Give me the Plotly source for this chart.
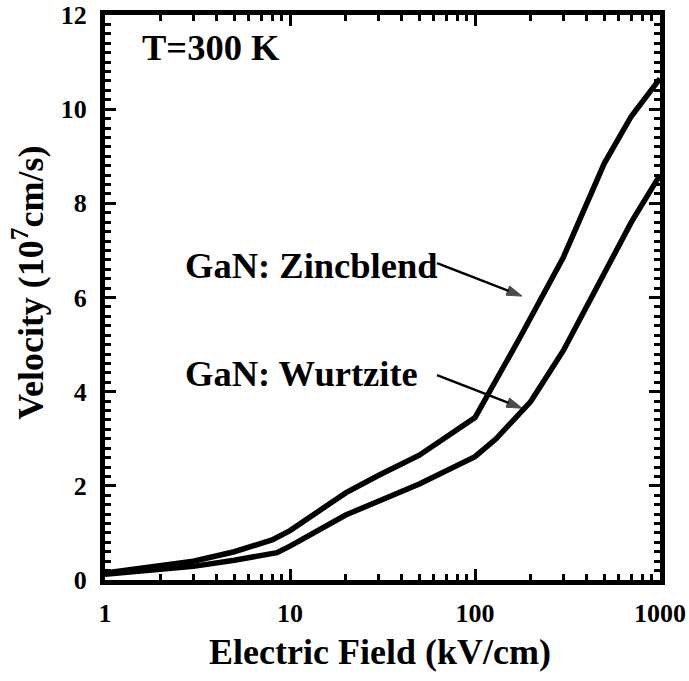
import plotly.graph_objects as go

# Drift velocity vs electric field for GaN at 300 K
zb_field = [1, 2, 3, 5, 8, 10, 20, 30, 50, 100, 175, 300, 500, 700, 1000]
zb_vel = [0.15, 0.30, 0.40, 0.60, 0.85, 1.05, 1.85, 2.22, 2.65, 3.45, 5.15, 6.85, 8.85, 9.85, 10.65]

wz_field = [1, 2, 3, 5, 8.5, 10, 20, 50, 100, 130, 200, 300, 500, 700, 1000]
wz_vel = [0.12, 0.21, 0.29, 0.42, 0.58, 0.72, 1.38, 2.04, 2.62, 3.0, 3.79, 4.87, 6.55, 7.6, 8.6]

# Pointer arrows from each label to its curve: (tail, head) in field / velocity units
zb_arrow_field = [62.3, 179.5]
zb_arrow_vel = [6.73, 6.03]
wz_arrow_field = [62.3, 179.5]
wz_arrow_vel = [4.35, 3.65]

# Tick positions and labels
x_major = [1, 10, 100, 1000]
x_major_text = ["<b>1</b>", "<b>10</b>", "<b>100</b>", "<b>1000</b>"]
x_minor = [m * d for d in (1, 10, 100) for m in range(2, 10)]
y_major = [0, 2, 4, 6, 8, 10, 12]
y_major_text = ["<b>%d</b>" % v for v in y_major]

FONT = "Liberation Serif"
BLACK = "black"

fig = go.Figure()
fig.add_trace(go.Scatter(x=zb_field, y=zb_vel, mode="lines",
                         line=dict(color=BLACK, width=5.5), name="GaN: Zincblend"))
fig.add_trace(go.Scatter(x=wz_field, y=wz_vel, mode="lines",
                         line=dict(color=BLACK, width=5.5), name="GaN: Wurtzite"))

for ax_f, ax_v in [(zb_arrow_field, zb_arrow_vel), (wz_arrow_field, wz_arrow_vel)]:
    fig.add_trace(go.Scatter(x=ax_f, y=ax_v, mode="lines+markers",
                             line=dict(color=BLACK, width=2.5),
                             marker=dict(symbol=["circle", "arrow"], size=[0, 16],
                                         angleref="previous", color=BLACK,
                                         line=dict(width=1, color=BLACK)),
                             hoverinfo="skip"))

text_font = dict(family=FONT, size=36.5, color=BLACK)
title_font = dict(family=FONT, size=36, color=BLACK)
tick_font = dict(family=FONT, size=26, color=BLACK)

fig.add_annotation(x=0.4216, y=6.69, text="<b>GaN: Zincblend</b>", showarrow=False,
                   xanchor="left", yanchor="middle", font=text_font)
fig.add_annotation(x=0.4216, y=4.39, text="<b>GaN: Wurtzite</b>", showarrow=False,
                   xanchor="left", yanchor="middle", font=text_font)
fig.add_annotation(x=0.19, y=11.3, text="<b>T=300 K</b>", showarrow=False,
                   xanchor="left", yanchor="middle", font=text_font)

# Axis titles
fig.add_annotation(xref="paper", yref="paper", x=0.4955, y=-0.1274,
                   text="<b>Electric Field (kV/cm)</b>", showarrow=False,
                   xanchor="center", yanchor="middle", font=title_font)
fig.add_annotation(xref="paper", yref="paper", x=-0.137, y=0.526,
                   text="<b>Velocity (10<sup>7</sup>cm/s)</b>",
                   textangle=-90, showarrow=False, xanchor="center", yanchor="middle",
                   font=title_font)

frame = dict(showline=True, linewidth=5, linecolor=BLACK, mirror="ticks",
             ticks="inside", tickcolor=BLACK, showgrid=False, zeroline=False,
             automargin=False)

fig.update_layout(
    width=689, height=681, margin=dict(l=105, r=29, t=15, b=101),
    plot_bgcolor="white", paper_bgcolor="white", showlegend=False,
    xaxis=dict(type="log", range=[0, 3], tickmode="array", tickvals=x_major,
               ticktext=x_major_text, ticklen=11, tickwidth=3, tickfont=tick_font,
               ticklabelstandoff=6,
               minor=dict(ticks="inside", tickvals=x_minor, ticklen=6, tickwidth=3,
                          tickcolor=BLACK, showgrid=False),
               **frame),
    yaxis=dict(range=[0, 12], tickmode="array", tickvals=y_major, ticktext=y_major_text,
               ticklen=11, tickwidth=3, tickfont=tick_font, ticklabelstandoff=8,
               minor=dict(ticks="inside", dtick=0.2, ticklen=6, tickwidth=3,
                          tickcolor=BLACK, showgrid=False),
               **frame),
)

fig.write_html("out.html")
